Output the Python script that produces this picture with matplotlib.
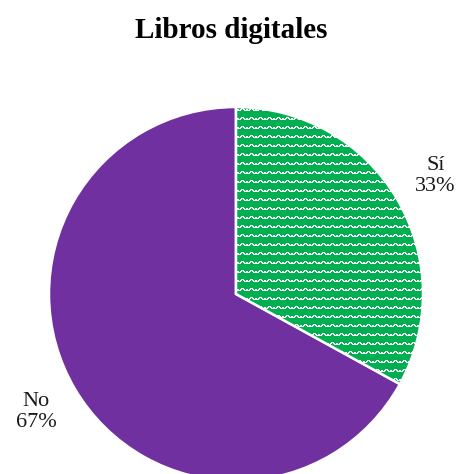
import numpy as np
import matplotlib
matplotlib.use("Agg")
import matplotlib.pyplot as plt
import matplotlib.patches as mpatches

categories = ["Sí", "No"]
percentages = [33, 67]
colors = ["#00B050", "#7030A0"]
title = "Libros digitales"

plt.rcParams["font.family"] = ["Liberation Serif", "DejaVu Serif"]

fig = plt.figure(figsize=(4.62, 4.74), dpi=100)
W, H = 462, 474
cx, cy, r = 236, 294, 187
ax = fig.add_axes([(cx - r) / W, (H - cy - r) / H, 2 * r / W, 2 * r / H])

labels = [f"{c}\n{p}%" for c, p in zip(categories, percentages)]
wedges, texts = ax.pie(
    percentages,
    labels=labels,
    colors=colors,
    startangle=90,
    counterclock=False,
    labeldistance=1.24,
    radius=1.0,
    wedgeprops=dict(edgecolor="white", linewidth=1.8),
    textprops=dict(fontsize=16, ha="center", va="center", color="#1a1a1a",
                   linespacing=1.2),
)
for w in wedges:
    w.set_clip_on(False)

# wave pattern fill for the first wedge
tile = np.array([
    [0, 0, 0, 0, 0, 0, 0, 0, 0],
    [0, 0, 0, 1, 1, 1, 0, 0, 0],
    [1, 0, 1, 1, 0, 1, 1, 0, 1],
    [1, 1, 1, 0, 0, 0, 1, 1, 1],
    [0, 0, 0, 0, 0, 0, 0, 0, 0],
    [0, 0, 0, 0, 0, 0, 0, 0, 0],
    [0, 0, 0, 0, 0, 0, 0, 0, 0],
    [0, 0, 0, 0, 0, 0, 0, 0, 0],
    [0, 0, 0, 0, 0, 0, 0, 0, 0],
])
n = 2 * r
th, tw = tile.shape
pat = np.tile(tile, (n // th + 1, n // tw + 1))[:n, :n]
green = np.array(matplotlib.colors.to_rgb(colors[0]))
img = np.where(pat[..., None] == 1, np.ones(3), green)
im = ax.imshow(img, extent=(-1, 1, -1, 1), interpolation="nearest",
               origin="upper", zorder=wedges[0].get_zorder() + 0.1)
im.set_clip_path(wedges[0])
ax.set_xlim(-1, 1)
ax.set_ylim(-1, 1)
ax.set_aspect("equal")
ax.axis("off")
# white border on top of the pattern
edge = mpatches.Wedge((0, 0), 1.0, wedges[0].theta1, wedges[0].theta2,
                      facecolor="none", edgecolor="white", linewidth=1.8,
                      zorder=im.get_zorder() + 0.1, clip_on=False)
ax.add_patch(edge)

fig.text(0.5, 1 - 31 / H, title, ha="center", va="center",
         fontsize=21, fontweight="bold")

fig.savefig("out.png", dpi=100)
